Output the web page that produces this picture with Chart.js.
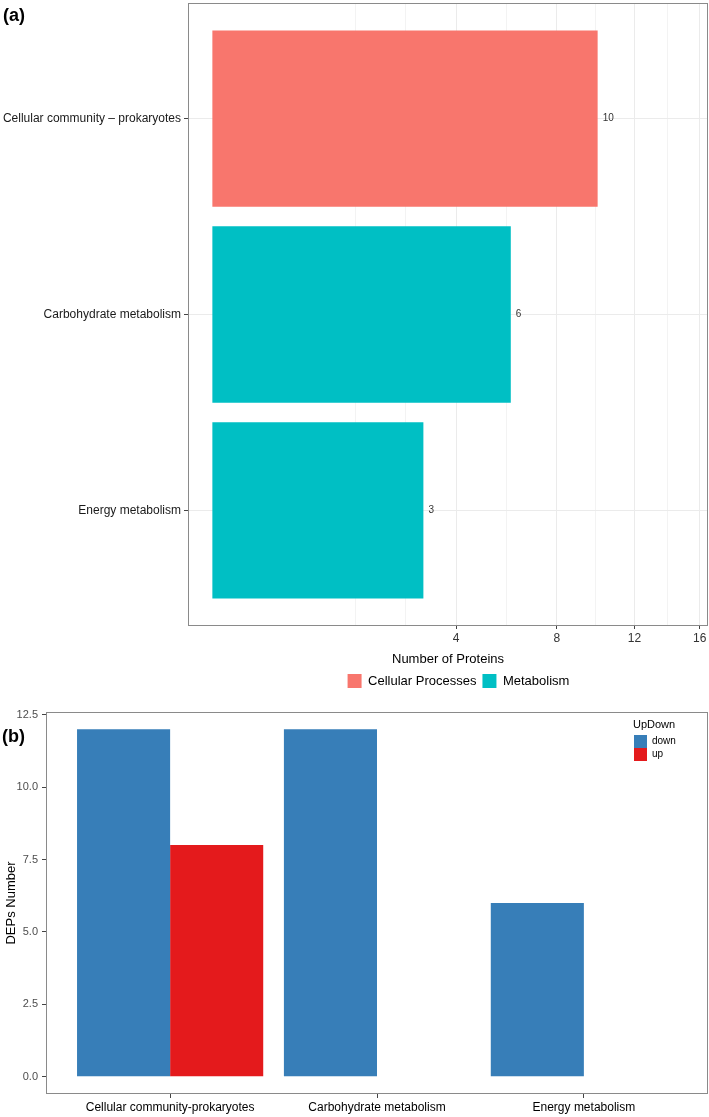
<!DOCTYPE html>
<html>
<head>
<meta charset="utf-8">
<script src="https://cdn.jsdelivr.net/npm/chart.js@4.4.0/dist/chart.umd.min.js"></script>
<style>
  html, body { margin: 0; padding: 0; background: #fff; }
  #page { position: relative; width: 709px; height: 1117px; overflow: hidden; font-family: "Liberation Sans", Arial, sans-serif; }
  #wrapA { position: absolute; left: 0; top: 0; }
  #wrapB { position: absolute; left: 0; top: 690px; }
  .tag { position: absolute; font-weight: bold; font-size: 18px; color: #000; }
</style>
</head>
<body>
<div id="page">
  <div id="wrapA"><canvas id="chartA" width="709" height="698"></canvas></div>
  <div id="wrapB"><canvas id="chartB" width="709" height="427"></canvas></div>
  <div class="tag" style="left:3px;top:5px">(a)</div>
  <div class="tag" style="left:2px;top:726px">(b)</div>
</div>
<script>
// (a) pathway classes
const catsA = ['Cellular community – prokaryotes', 'Carbohydrate metabolism', 'Energy metabolism'];
const groupOfCatA = ['Cellular Processes', 'Metabolism', 'Metabolism'];
const proteinsA = [10, 6, 3];
const groupsA = ['Cellular Processes', 'Metabolism'];
const xTicksA = [4, 8, 12, 16];
const xTitleA = 'Number of Proteins';

// (b) up / down counts
const catsB = ['Cellular community-prokaryotes', 'Carbohydrate metabolism', 'Energy metabolism'];
const downB = [12, 12, 6];
const upB = [8, 0, 0];
const yTicksB = [0, 2.5, 5, 7.5, 10, 12.5];
const yTitleB = 'DEPs Number';
const legendTitleB = 'UpDown';

const colorsA = ['#F8766D', '#00BFC4'];
const colorDown = '#377EB8';
const colorUp = '#E41A1C';

Chart.defaults.font.family = '"Liberation Sans", Arial, sans-serif';

// square-root axis (like scale_x_sqrt in ggplot)
const sroot = v => Math.sign(v) * Math.sqrt(Math.abs(v));
const LinearBase = Chart.LinearScale || Chart.registry.getScale('linear');
class SqrtScale extends LinearBase {
  getPixelForValue(value) {
    const a = sroot(this.min), b = sroot(this.max);
    return this.getPixelForDecimal((sroot(value) - a) / (b - a));
  }
  getValueForPixel(pixel) {
    const a = sroot(this.min), b = sroot(this.max);
    const t = a + this.getDecimalForPixel(pixel) * (b - a);
    return Math.sign(t) * t * t;
  }
}
SqrtScale.id = 'sqrt';
SqrtScale.defaults = {};
Chart.register(SqrtScale);

// minor breaks: halfway between majors in sqrt space, one step extended
function minorBreaks(majors, lo, hi) {
  const t = majors.map(sroot);
  const d = t[1] - t[0];
  if (sroot(lo) < t[0]) t.unshift(t[0] - d);
  if (sroot(hi) > t[t.length - 1]) t.push(t[t.length - 1] + d);
  const out = [];
  for (let i = 0; i < t.length - 1; i++) out.push(t[i], (t[i] + t[i + 1]) / 2);
  out.push(t[t.length - 1]);
  return out.filter(v => v >= sroot(lo) && v <= sroot(hi)).map(v => Math.sign(v) * v * v);
}

const isMajorA = v => xTicksA.some(m => Math.abs(m - v) < 1e-6);

// fixed axis sizes, no extra room for overhanging labels
const fixSize = (w, h) => s => {
  if (w != null) s.width = w;
  if (h != null) s.height = h;
  s.paddingTop = s.paddingBottom = s.paddingLeft = s.paddingRight = 0;
};

const framePlugin = {
  id: 'frame',
  afterDraw(chart) {
    const { ctx, chartArea: a } = chart;
    ctx.save();
    ctx.strokeStyle = '#8a8a8a';
    ctx.lineWidth = 1;
    ctx.strokeRect(a.left + 0.5, a.top + 0.5, a.right - a.left - 1, a.bottom - a.top - 1);
    ctx.restore();
  }
};

const valueLabels = {
  id: 'valueLabels',
  afterDatasetsDraw(chart) {
    const ctx = chart.ctx;
    const meta = chart.getDatasetMeta(0);
    ctx.save();
    ctx.font = '10px "Liberation Sans", Arial, sans-serif';
    ctx.fillStyle = '#333';
    ctx.textBaseline = 'middle';
    meta.data.forEach((bar, i) => ctx.fillText(String(proteinsA[i]), bar.x + 5, bar.y));
    ctx.restore();
  }
};

// keep the bottom legend centred under the panel, not the canvas
const legendUnderPanel = {
  id: 'legendUnderPanel',
  afterLayout(chart) {
    if (!chart.legend) return;
    chart.legend.left = chart.chartArea.left + 21;
    chart.legend.right = chart.chartArea.right;
  }
};

const xMinA = -0.04, xMaxA = 16.55;
const gridA = minorBreaks(xTicksA, xMinA, xMaxA);

new Chart(document.getElementById('chartA'), {
  type: 'bar',
  data: {
    datasets: [{
      label: xTitleA,
      data: catsA.map((c, i) => ({ x: proteinsA[i], y: i })),
      backgroundColor: groupOfCatA.map(g => colorsA[groupsA.indexOf(g)]),
      borderWidth: 0,
      barPercentage: 0.9,
      categoryPercentage: 1
    }]
  },
  options: {
    indexAxis: 'y',
    responsive: false,
    animation: false,
    layout: { padding: { top: 3, right: 1, left: 0, bottom: 0 } },
    scales: {
      x: {
        type: 'sqrt',
        min: xMinA,
        max: xMaxA,
        bounds: 'data',
        afterBuildTicks: s => { s.ticks = gridA.map(v => ({ value: v })); },
        afterFit: fixSize(null, 42),
        ticks: {
          autoSkip: false, maxRotation: 0, padding: 2,
          font: { size: 12 }, color: '#333',
          callback: v => isMajorA(v) ? String(Math.round(v)) : ''
        },
        grid: {
          color: c => isMajorA(c.tick.value) ? '#ebebeb' : '#f3f3f3',
          tickColor: c => isMajorA(c.tick.value) ? '#444' : 'rgba(0,0,0,0)',
          tickLength: 3
        },
        border: { display: false },
        title: { display: true, text: xTitleA, font: { size: 13 }, color: '#000', padding: { top: 2, bottom: 1 } }
      },
      y: {
        type: 'linear',
        reverse: true,
        min: -0.59,
        max: 2.59,
        bounds: 'data',
        offset: false,
        afterBuildTicks: s => { s.ticks = catsA.map((c, i) => ({ value: i })); },
        afterFit: fixSize(188, null),
        ticks: { autoSkip: false, padding: 3, font: { size: 12 }, color: '#1a1a1a', callback: v => catsA[v] },
        grid: { offset: false, color: '#ebebeb', tickColor: '#444', tickLength: 4 },
        border: { display: false }
      }
    },
    plugins: {
      tooltip: { enabled: false },
      legend: {
        position: 'bottom',
        labels: {
          boxWidth: 14, boxHeight: 14, padding: 6,
          font: { size: 13 }, color: '#000',
          generateLabels: () => groupsA.map((g, i) => ({
            text: g, fillStyle: colorsA[i], strokeStyle: colorsA[i], lineWidth: 0, hidden: false, index: i
          }))
        }
      }
    }
  },
  plugins: [framePlugin, valueLabels, legendUnderPanel]
});

const legendB = {
  id: 'legendB',
  afterDraw(chart) {
    const { ctx, chartArea: a } = chart;
    const x = a.right - 75, y = a.top + 13;
    ctx.save();
    ctx.textBaseline = 'middle';
    ctx.fillStyle = '#000';
    ctx.font = '11px "Liberation Sans", Arial, sans-serif';
    ctx.fillText(legendTitleB, x, y);
    ctx.font = '10px "Liberation Sans", Arial, sans-serif';
    chart.data.datasets.forEach((ds, i) => {
      const by = y + 10 + i * 13;
      ctx.fillStyle = ds.backgroundColor;
      ctx.fillRect(x + 1, by, 13, 13);
      ctx.fillStyle = '#000';
      ctx.fillText(ds.label, x + 19, by + 6.5);
    });
    ctx.restore();
  }
};

new Chart(document.getElementById('chartB'), {
  type: 'bar',
  data: {
    datasets: [
      { label: 'down', data: catsB.map((c, i) => ({ x: i, y: downB[i] })), backgroundColor: colorDown, borderWidth: 0 },
      { label: 'up', data: catsB.map((c, i) => ({ x: i, y: upB[i] })), backgroundColor: colorUp, borderWidth: 0 }
    ]
  },
  options: {
    responsive: false,
    animation: false,
    datasets: { bar: { barPercentage: 1, categoryPercentage: 0.9 } },
    layout: { padding: { top: 22, right: 1, left: 0, bottom: 0 } },
    scales: {
      x: {
        type: 'linear',
        min: -0.6,
        max: 2.6,
        bounds: 'data',
        offset: false,
        afterBuildTicks: s => { s.ticks = catsB.map((c, i) => ({ value: i })); },
        afterFit: fixSize(null, 23),
        ticks: { autoSkip: false, maxRotation: 0, padding: 2, font: { size: 12 }, color: '#000', callback: v => catsB[v] },
        grid: { offset: false, drawOnChartArea: false, tickColor: '#444', tickLength: 4 },
        border: { display: false }
      },
      y: {
        min: -0.6,
        max: 12.6,
        bounds: 'data',
        afterBuildTicks: s => { s.ticks = yTicksB.map(v => ({ value: v })); },
        afterFit: fixSize(46, null),
        ticks: { padding: 4, font: { size: 11 }, color: '#4d4d4d', callback: v => v.toFixed(1) },
        grid: { drawOnChartArea: false, tickColor: '#444', tickLength: 4 },
        border: { display: false },
        title: { display: true, text: yTitleB, font: { size: 13 }, color: '#000', padding: { top: 4, bottom: 0 } }
      }
    },
    plugins: { legend: { display: false }, tooltip: { enabled: false } }
  },
  plugins: [framePlugin, legendB]
});
</script>
</body>
</html>
